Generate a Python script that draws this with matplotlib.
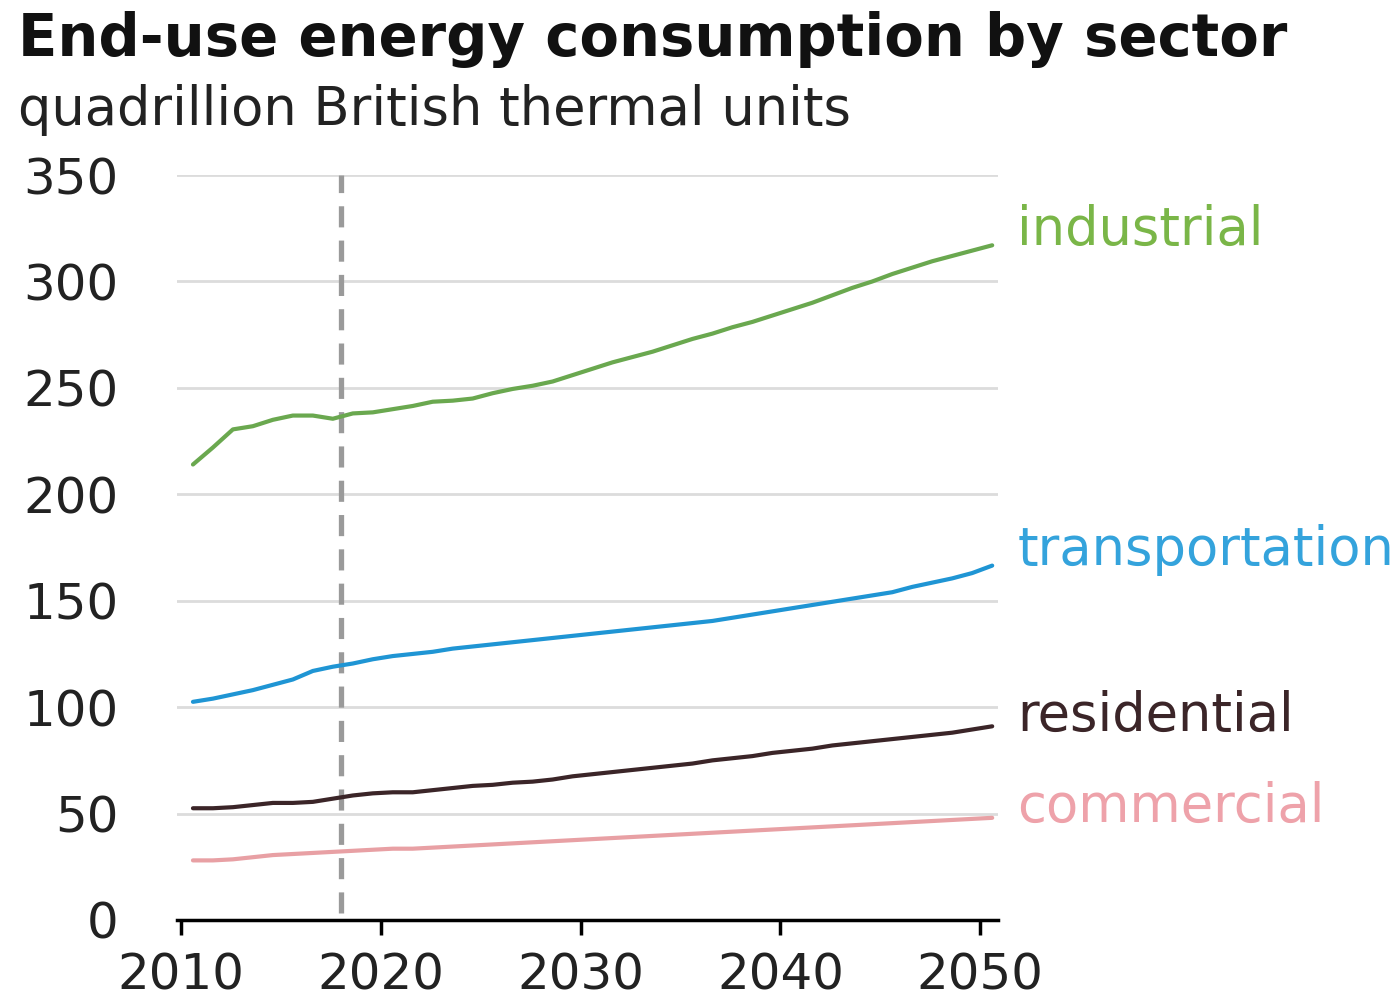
import matplotlib
matplotlib.use('Agg')
import matplotlib.pyplot as plt

plt.rcParams['font.family'] = ['DejaVu Sans']

years = list(range(2010, 2051))

industrial = [214, 222, 230.5, 232, 235, 237, 237, 235.5, 238, 238.5,
              240, 241.5, 243.5, 244, 245, 247.5, 249.5, 251, 253, 256,
              259, 262, 264.5, 267, 270, 273, 275.5, 278.5, 281, 284,
              287, 290, 293.5, 297, 300, 303.5, 306.5, 309.5, 312, 314.5, 317]
transportation = [102.5, 104, 106, 108, 110.5, 113, 117, 119, 120.5, 122.5,
                  124, 125, 126, 127.5, 128.5, 129.5, 130.5, 131.5, 132.5, 133.5,
                  134.5, 135.5, 136.5, 137.5, 138.5, 139.5, 140.5, 142, 143.5, 145,
                  146.5, 148, 149.5, 151, 152.5, 154, 156.5, 158.5, 160.5, 163, 166.5]
residential = [52.5, 52.5, 53, 54, 55, 55, 55.5, 57, 58.5, 59.5,
               60, 60, 61, 62, 63, 63.5, 64.5, 65, 66, 67.5,
               68.5, 69.5, 70.5, 71.5, 72.5, 73.5, 75, 76, 77, 78.5,
               79.5, 80.5, 82, 83, 84, 85, 86, 87, 88, 89.5, 91]
commercial = [28, 28, 28.5, 29.5, 30.5, 31, 31.5, 32, 32.5, 33,
              33.5, 33.5, 34, 34.5, 35, 35.5, 36, 36.5, 37, 37.5,
              38, 38.5, 39, 39.5, 40, 40.5, 41, 41.5, 42, 42.5,
              43, 43.5, 44, 44.5, 45, 45.5, 46, 46.5, 47, 47.5, 48]

sectors = ['industrial', 'transportation', 'residential', 'commercial']
line_colors = ['#6aa84f', '#1f95d4', '#3b2528', '#e8a0a4']
label_colors = ['#7ab648', '#34a3dc', '#3b2528', '#eea2aa']
label_y = [324, 174, 96, 53]
history_end = 2018

fig = plt.figure(figsize=(13.99, 10.06), dpi=100)
ax = fig.add_axes([0.1265, 0.0855, 0.587, 0.7405])

# lines sit a bit right of the year ticks in the original
xs = [y + 0.6 for y in years]
for vals, c in zip([industrial, transportation, residential, commercial], line_colors):
    ax.plot(xs, vals, color=c, lw=3, solid_capstyle='round', zorder=3)

for name, c, ly in zip(sectors, label_colors, label_y):
    ax.text(2051.85, ly, name, color=c, fontsize=38, va='center', ha='left', clip_on=False)

ax.axvline(history_end, ymin=0.01, ymax=1, color='#9a9a9a', lw=3.8, dashes=(4, 2.5), zorder=2)

ax.set_xlim(2009.8, 2050.9)
ax.set_ylim(0, 350)
ax.set_yticks(range(0, 351, 50))
ax.set_xticks(range(2010, 2051, 10))
ax.grid(axis='y', color='#dcdcdc', lw=2)
ax.set_axisbelow(True)
for s in ['top', 'right', 'left']:
    ax.spines[s].set_visible(False)
ax.spines['bottom'].set_linewidth(2.5)
ax.tick_params(axis='y', length=0, pad=42, labelsize=36, labelcolor='#222222')
ax.tick_params(axis='x', length=11, width=2.5, direction='out', pad=12, labelsize=36,
               labelcolor='#222222')

fig.text(0.013, 0.961, 'End-use energy consumption by sector', fontsize=41.5,
         fontweight='bold', va='center', ha='left', color='#111111')
fig.text(0.013, 0.891, 'quadrillion British thermal units', fontsize=38,
         va='center', ha='left', color='#222222')

fig.savefig('out.png', dpi=100)
